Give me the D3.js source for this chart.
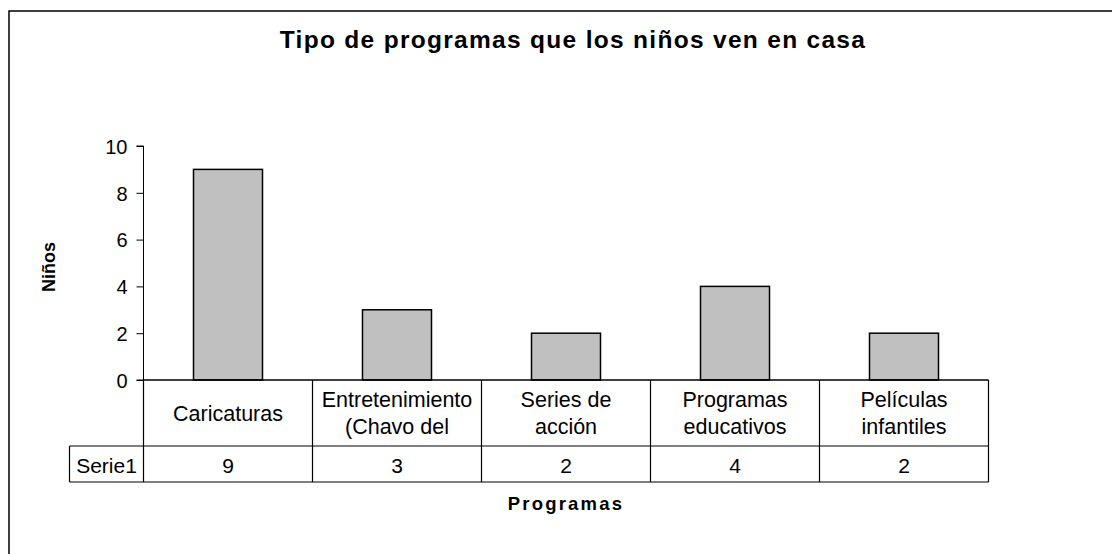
<!DOCTYPE html>
<html>
<head>
<meta charset="utf-8">
<script src="https://cdn.jsdelivr.net/npm/d3@7"></script>
<style>
  body { margin: 0; background: #fff; }
  svg text { font-family: "Liberation Sans", Arial, sans-serif; fill: #000; }
</style>
</head>
<body>
<div id="chart"></div>
<script>
// data
const categories = [
    ["Caricaturas"],
    ["Entretenimiento", "(Chavo del"],
    ["Series de", "acción"],
    ["Programas", "educativos"],
    ["Películas", "infantiles"]
];
const seriesName = "Serie1";
const values = [9, 3, 2, 4, 2];
const yTicks = [0, 2, 4, 6, 8, 10];

const W = 1112, H = 554;
const svg = d3.select("#chart").append("svg")
    .attr("width", W)
    .attr("height", H);

// outer frame (runs off right and bottom)
svg.append("rect")
    .attr("x", 9).attr("y", 11)
    .attr("width", W + 20).attr("height", H + 20)
    .attr("fill", "none")
    .attr("stroke", "#000")
    .attr("stroke-width", 1.5);

const plot = {left: 143.5, right: 988.5, top: 146, bottom: 380};

const x = d3.scaleBand()
    .domain(d3.range(categories.length))
    .range([plot.left, plot.right]);

const y = d3.scaleLinear()
    .domain([0, 10])
    .range([plot.bottom, plot.top]);

const barW = 69;

svg.selectAll(".bar")
    .data(values)
    .enter().append("rect")
    .attr("class", "bar")
    .attr("x", (d, i) => x(i) + x.bandwidth() / 2 - barW / 2)
    .attr("y", d => y(d))
    .attr("width", barW)
    .attr("height", d => y(0) - y(d))
    .attr("fill", "#c0c0c0")
    .attr("stroke", "#000")
    .attr("stroke-width", 1.5);

// y axis
const yAxis = d3.axisLeft(y).tickValues(yTicks).tickSize(7).tickPadding(9);
const gy = svg.append("g")
    .attr("transform", "translate(" + plot.left + ",0)")
    .call(yAxis);
gy.select(".domain").attr("d", "M-7," + y(10) + "H0V" + y(0) + "H-7").attr("stroke", "#000");
gy.selectAll("text").style("font-size", "20px").attr("dy", "0.36em");

// data table
const row1 = plot.bottom, row2 = 446, row3 = 482;
const tableLeft = 69.5;
const tbl = svg.append("g").attr("stroke", "#000").attr("stroke-width", 1.2);

tbl.append("line").attr("x1", plot.left).attr("x2", plot.right).attr("y1", row1).attr("y2", row1).attr("stroke-width", 1.5);
tbl.append("line").attr("x1", tableLeft).attr("x2", plot.right).attr("y1", row2).attr("y2", row2);
tbl.append("line").attr("x1", tableLeft).attr("x2", plot.right).attr("y1", row3).attr("y2", row3);
tbl.append("line").attr("x1", tableLeft).attr("x2", tableLeft).attr("y1", row2).attr("y2", row3);

d3.range(categories.length + 1).forEach(i => {
    const xx = i < categories.length ? x(i) : plot.right;
    tbl.append("line").attr("x1", xx).attr("x2", xx).attr("y1", row1).attr("y2", row3);
});

// category labels
categories.forEach((lines, i) => {
    const cx = x(i) + x.bandwidth() / 2;
    const t = svg.append("text")
        .attr("x", cx)
        .attr("text-anchor", "middle")
        .style("font-size", "21.5px");
    const startY = lines.length === 1 ? 421 : 407;
    lines.forEach((l, j) => {
        t.append("tspan").attr("x", cx).attr("y", startY + j * 27).text(l);
    });
});

// values row
svg.append("text")
    .attr("x", (tableLeft + plot.left) / 2)
    .attr("y", 473)
    .attr("text-anchor", "middle")
    .style("font-size", "21px")
    .text(seriesName);

svg.selectAll(".val")
    .data(values)
    .enter().append("text")
    .attr("class", "val")
    .attr("x", (d, i) => x(i) + x.bandwidth() / 2)
    .attr("y", 473)
    .attr("text-anchor", "middle")
    .style("font-size", "21px")
    .text(d => d);

// titles
svg.append("text")
    .attr("x", 573)
    .attr("y", 48)
    .attr("text-anchor", "middle")
    .style("font-size", "24.5px")
    .style("font-weight", "bold")
    .style("letter-spacing", "1.3px")
    .text("Tipo de programas que los niños ven en casa");

svg.append("text")
    .attr("x", 566)
    .attr("y", 510)
    .attr("text-anchor", "middle")
    .style("font-size", "18.5px")
    .style("font-weight", "bold")
    .style("letter-spacing", "2.2px")
    .text("Programas");

svg.append("text")
    .attr("transform", "translate(55,267) rotate(-90)")
    .attr("text-anchor", "middle")
    .style("font-size", "18px")
    .style("font-weight", "bold")
    .text("Niños");
</script>
</body>
</html>
